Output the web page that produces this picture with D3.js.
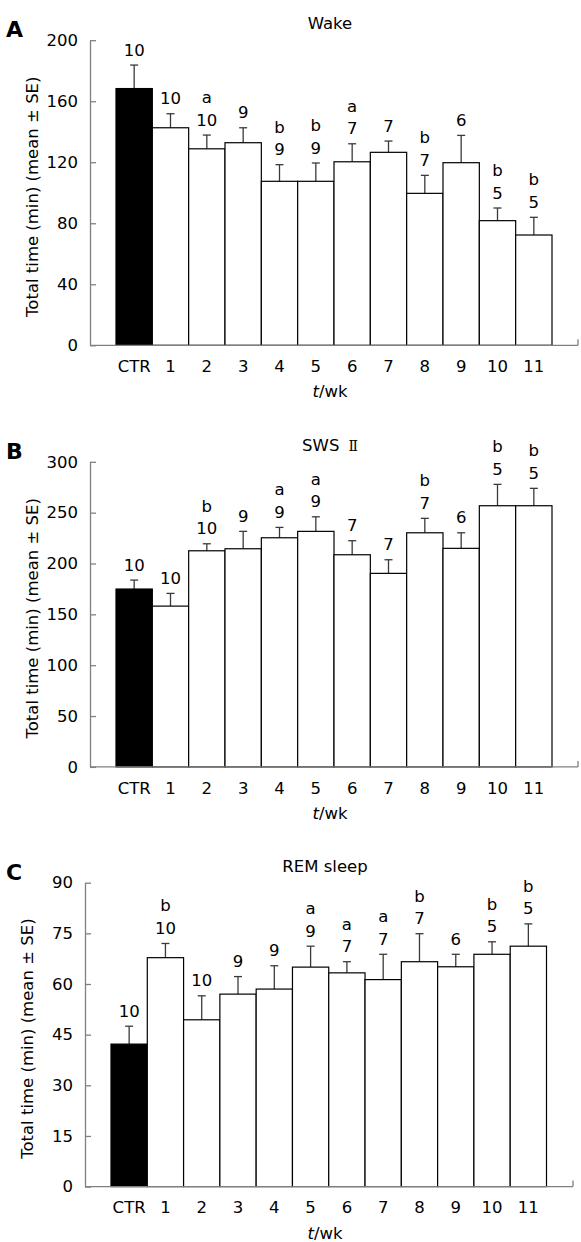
<!DOCTYPE html>
<html>
<head>
<meta charset="utf-8">
<script src="https://cdn.jsdelivr.net/npm/d3@7"></script>
<style>
  body { margin: 0; background: #fff; }
  svg text { font-family: "DejaVu Sans", Verdana, sans-serif; font-size: 16.5px; fill: #000; }
</style>
</head>
<body>
<svg id="chart" width="581" height="1242"></svg>
<script>
// data
const categories = ["CTR", "1", "2", "3", "4", "5", "6", "7", "8", "9", "10", "11"];
const nLabels = [10, 10, 10, 9, 9, 9, 7, 7, 7, 6, 5, 5];

const wakeMean = [168.3, 142.6, 128.8, 132.8, 107.5, 107.5, 120.3, 126.5, 99.6, 119.7, 81.7, 72.3];
const wakeSE   = [15.4, 9.2, 9.0, 9.8, 10.9, 12.0, 11.8, 7.4, 11.8, 17.9, 8.3, 11.6];
const wakeSig  = ["", "", "a", "", "b", "b", "a", "", "b", "", "b", "b"];
const wakeTicks = [0, 40, 80, 120, 160, 200];

const swsMean = [174.9, 158.1, 212.5, 214.5, 225.3, 231.6, 208.6, 190.3, 230.2, 214.9, 256.8, 256.8];
const swsSE   = [8.8, 12.5, 6.9, 17.1, 10.2, 14.3, 13.8, 13.4, 14.2, 15.3, 21.0, 17.1];
const swsSig  = ["", "", "b", "", "a", "a", "", "", "b", "", "b", "b"];
const swsTicks = [0, 50, 100, 150, 200, 250, 300];

const remMean = [42.2, 67.8, 49.4, 57.0, 58.5, 65.0, 63.3, 61.3, 66.6, 65.1, 68.8, 71.2];
const remSE   = [5.3, 4.2, 7.1, 5.2, 6.9, 6.2, 3.3, 7.5, 8.3, 3.7, 3.7, 6.6];
const remSig  = ["", "b", "", "", "", "a", "a", "a", "b", "", "b", "b"];
const remTicks = [0, 15, 30, 45, 60, 75, 90];

const svg = d3.select("#chart");
svg.append("rect").attr("width", 581).attr("height", 1242).attr("fill", "#fff");

const axisColor = "#808080";

function drawPanel(opt) {
    const g = svg.append("g");

    const x = d3.scaleBand()
        .domain(categories)
        .range([opt.barStart, opt.barEnd])
        .padding(0);

    const y = d3.scaleLinear()
        .domain([0, d3.max(opt.ticks)])
        .range([opt.bottom, opt.top]);

    const rows = categories.map((c, i) => ({
        cat: c, mean: opt.mean[i], se: opt.se[i], n: nLabels[i], sig: opt.sig[i]
    }));

    // error bars
    const err = g.append("g").attr("stroke", "#3a3a3a").attr("stroke-width", 1.3);
    err.selectAll("line.stem")
        .data(rows).enter().append("line")
        .attr("class", "stem")
        .attr("x1", d => x(d.cat) + x.bandwidth() / 2)
        .attr("x2", d => x(d.cat) + x.bandwidth() / 2)
        .attr("y1", d => y(d.mean))
        .attr("y2", d => y(d.mean + d.se));
    err.selectAll("line.cap")
        .data(rows).enter().append("line")
        .attr("class", "cap")
        .attr("x1", d => x(d.cat) + x.bandwidth() / 2 - 4)
        .attr("x2", d => x(d.cat) + x.bandwidth() / 2 + 4)
        .attr("y1", d => y(d.mean + d.se))
        .attr("y2", d => y(d.mean + d.se));

    // bars
    g.selectAll("rect.bar")
        .data(rows).enter().append("rect")
        .attr("class", "bar")
        .attr("x", d => x(d.cat))
        .attr("width", x.bandwidth())
        .attr("y", d => y(d.mean))
        .attr("height", d => y(0) - y(d.mean))
        .attr("fill", d => d.cat === "CTR" ? "#000" : "#fff")
        .attr("stroke", "#000")
        .attr("stroke-width", 1.2);

    // n and significance labels
    g.selectAll("text.n")
        .data(rows).enter().append("text")
        .attr("class", "n")
        .attr("x", d => x(d.cat) + x.bandwidth() / 2)
        .attr("y", d => y(d.mean + d.se) - 9.5)
        .attr("text-anchor", "middle")
        .text(d => d.n);
    g.selectAll("text.sig")
        .data(rows.filter(d => d.sig)).enter().append("text")
        .attr("class", "sig")
        .attr("x", d => x(d.cat) + x.bandwidth() / 2)
        .attr("y", d => y(d.mean + d.se) - 9.5 - 22.5)
        .attr("text-anchor", "middle")
        .text(d => d.sig);

    // y axis (ticks pointing inward)
    const yAxisG = g.append("g")
        .attr("transform", `translate(${opt.axisX},0)`)
        .call(d3.axisLeft(y).tickValues(opt.ticks).tickSizeInner(-6).tickSizeOuter(0).tickPadding(12));
    yAxisG.selectAll("path, line").attr("stroke", axisColor).attr("stroke-width", 1.3);
    yAxisG.selectAll("text").attr("fill", "#000");

    // x axis
    g.append("line")
        .attr("x1", opt.axisX).attr("x2", opt.axisEnd)
        .attr("y1", opt.bottom).attr("y2", opt.bottom)
        .attr("stroke", axisColor).attr("stroke-width", 1.3);
    g.append("line")
        .attr("x1", opt.axisEnd).attr("x2", opt.axisEnd)
        .attr("y1", opt.bottom).attr("y2", opt.bottom - 6)
        .attr("stroke", axisColor).attr("stroke-width", 1.3);

    const xAxisG = g.append("g")
        .attr("transform", `translate(0,${opt.bottom})`)
        .call(d3.axisBottom(x).tickSize(0).tickPadding(15));
    xAxisG.select(".domain").remove();
    xAxisG.selectAll("text").attr("fill", "#000");

    const mid = (opt.axisX + opt.axisEnd) / 2;

    // x title
    const xt = g.append("text")
        .attr("x", mid - 4)
        .attr("y", opt.bottom + 52)
        .attr("text-anchor", "middle");
    xt.append("tspan").style("font-style", "italic").text("t");
    xt.append("tspan").text("/wk");

    // y title
    g.append("text")
        .attr("transform", `translate(${opt.axisX - 52},${(opt.top + opt.bottom) / 2 + 4}) rotate(-90)`)
        .attr("text-anchor", "middle")
        .text("Total time (min) (mean ± SE)");

    // panel title
    const tt = g.append("text")
        .attr("x", mid - 4)
        .attr("y", opt.top - 11)
        .attr("text-anchor", "middle");
    tt.append("tspan").text(opt.title);
    if (opt.suffix) {
        tt.append("tspan").attr("dx", 9)
            .style("font-family", "'DejaVu Serif', serif")
            .style("font-size", "14px")
            .text(opt.suffix);
    }

    // panel letter
    g.append("text")
        .attr("x", 6)
        .attr("y", opt.top - 3)
        .style("font-weight", "bold")
        .style("font-size", "22px")
        .text(opt.letter);
}

drawPanel({
    letter: "A", title: "Wake",
    mean: wakeMean, se: wakeSE, sig: wakeSig, ticks: wakeTicks,
    top: 40.2, bottom: 345.3, axisX: 90, axisEnd: 578, barStart: 116, barEnd: 552
});

drawPanel({
    letter: "B", title: "SWS", suffix: "Ⅱ",
    mean: swsMean, se: swsSE, sig: swsSig, ticks: swsTicks,
    top: 461.8, bottom: 766.9, axisX: 90, axisEnd: 578, barStart: 116, barEnd: 552
});

drawPanel({
    letter: "C", title: "REM sleep",
    mean: remMean, se: remSE, sig: remSig, ticks: remTicks,
    top: 882.7, bottom: 1186.6, axisX: 85, axisEnd: 573, barStart: 111, barEnd: 546.5
});
</script>
</body>
</html>
